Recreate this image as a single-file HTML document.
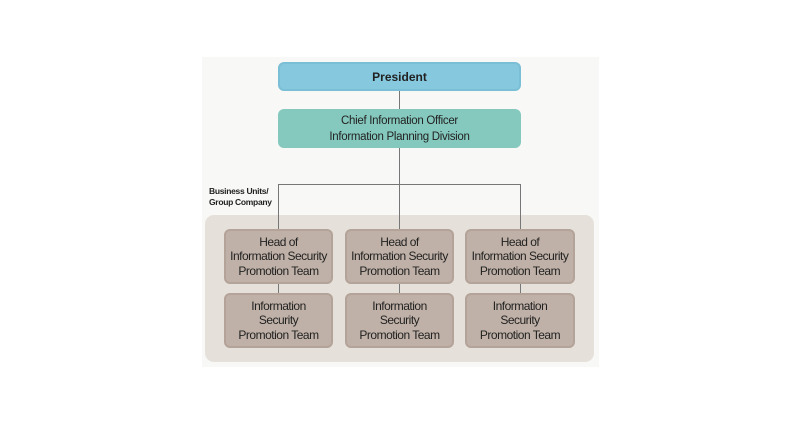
<!DOCTYPE html>
<html><head><style>
body{margin:0;width:800px;height:424px;background:#fff;position:relative;font-family:"Liberation Sans",sans-serif;overflow:hidden}
div{position:absolute;box-sizing:border-box}
.b{display:flex;align-items:center;justify-content:center;text-align:center;border-radius:6px}
.t{background:#bfb1a7;border:2px solid #b3a399;font-size:12px;line-height:14.5px;color:#222;letter-spacing:-0.5px;white-space:nowrap}
.l{background:#777}
</style></head><body>
<div style="left:202px;top:57px;width:397px;height:310px;background:#f8f8f6"></div>
<div style="left:205px;top:215px;width:389px;height:147px;background:#e5e1da;border-radius:9px"></div>
<div class="l" style="left:399px;top:90px;width:1px;height:20px"></div>
<div class="l" style="left:399px;top:147px;width:1px;height:82px"></div>
<div class="l" style="left:278px;top:184px;width:243px;height:1px"></div>
<div class="l" style="left:278px;top:184px;width:1px;height:45px"></div>
<div class="l" style="left:520px;top:184px;width:1px;height:45px"></div>
<div class="l" style="left:278px;top:283px;width:1px;height:11px"></div>
<div class="l" style="left:399px;top:283px;width:1px;height:11px"></div>
<div class="l" style="left:520px;top:283px;width:1px;height:11px"></div>
<div class="b" style="left:278px;top:62px;width:243px;height:29px;background:#86c9df;border:2px solid #7bbfd6;font-weight:bold;font-size:12px;color:#222">President</div>
<div class="b" style="left:278px;top:109px;width:243px;height:39px;background:#85c9be;font-size:11.5px;line-height:16px;color:#222;letter-spacing:-0.3px">Chief Information Officer<br>Information Planning Division</div>
<div style="left:209px;top:186px;font-size:8.5px;font-weight:bold;line-height:10.5px;color:#222;letter-spacing:-0.3px">Business Units/<br>Group Company</div>
<div class="b t" style="left:224px;top:229px;width:109px;height:55px">Head of<br>Information Security<br>Promotion Team</div>
<div class="b t" style="left:345px;top:229px;width:109px;height:55px">Head of<br>Information Security<br>Promotion Team</div>
<div class="b t" style="left:465px;top:229px;width:110px;height:55px">Head of<br>Information Security<br>Promotion Team</div>
<div class="b t" style="left:224px;top:293px;width:109px;height:55px">Information<br>Security<br>Promotion Team</div>
<div class="b t" style="left:345px;top:293px;width:109px;height:55px">Information<br>Security<br>Promotion Team</div>
<div class="b t" style="left:465px;top:293px;width:110px;height:55px">Information<br>Security<br>Promotion Team</div>
</body></html>
